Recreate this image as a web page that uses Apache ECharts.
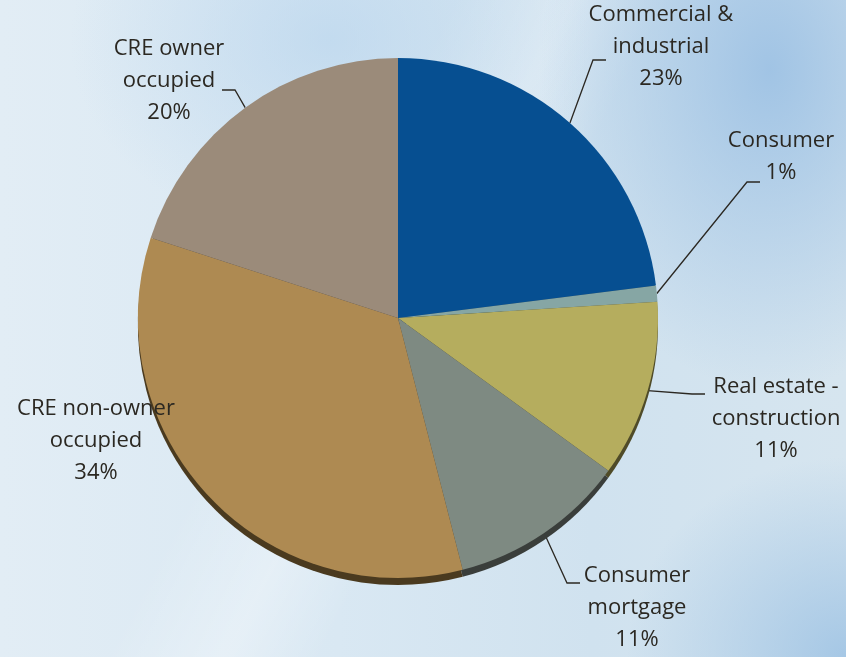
<!DOCTYPE html>
<html>
<head>
<meta charset="utf-8">
<script src="https://cdn.jsdelivr.net/npm/echarts@6/dist/echarts.min.js"></script>
<style>
  html, body {
    margin: 0;
    padding: 0;
  }
  #chart {
    width: 846px;
    height: 657px;
    background:
      radial-gradient(ellipse 230px 320px at 770px 70px, rgba(158, 194, 228, 0.95), rgba(158, 194, 228, 0) 100%),
      radial-gradient(ellipse 220px 200px at 846px 657px, rgba(160, 196, 228, 0.9), rgba(160, 196, 228, 0) 100%),
      radial-gradient(ellipse 260px 200px at 330px 40px, rgba(180, 210, 236, 0.6), rgba(180, 210, 236, 0) 100%),
      linear-gradient(118deg, rgba(255,255,255,0) 38%, rgba(255,255,255,0.3) 48%, rgba(255,255,255,0) 56%),
      linear-gradient(90deg, #e2edf5 0%, #d9e8f3 40%, #d0e2ef 70%, #d6e5ef 100%);
  }
</style>
</head>
<body>
<div id="chart"></div>
<script>
// slice data (clockwise from 12 o'clock)
const categories = [
  'Commercial &\nindustrial',
  'Consumer',
  'Real estate -\nconstruction',
  'Consumer\nmortgage',
  'CRE non-owner\noccupied',
  'CRE owner\noccupied',
]
const shares = [23, 1, 11, 11, 34, 20]

const colors = ['#064f91', '#86a6a4', '#b5ad5e', '#7e8a82', '#ae8a52', '#9b8b7a']
const shadeColors = ['#05305a', '#3d4a48', '#4f4b28', '#3a3e3b', '#4a3a1f', '#4a4034']
// label centres, px
const labelPos = [
  [661, 47],
  [781, 157],
  [776, 419],
  [637, 608],
  [96, 441],
  [169, 81],
]
// where the leader line meets the label (null = no leader), and which side it comes from
const leaderEnd = [
  [606, 60, -1],
  [760, 182, -1],
  [705, 394, -1],
  [580, 583, -1],
  null,
  [222, 90, 1],
]

const chart = echarts.init(document.getElementById('chart'))

const option = {
  animation: false,
  backgroundColor: 'transparent',
  series: [
    {
      // dark rim under the pie (3d edge)
      type: 'pie',
      silent: true,
      center: [398, 325],
      radius: 260,
      startAngle: 90,
      label: { show: false },
      labelLine: { show: false },
      data: shares.map((v, i) => ({
        value: v,
        name: categories[i],
        itemStyle: { color: shadeColors[i] },
      })),
    },
    {
      type: 'pie',
      center: [398, 318],
      radius: 260,
      startAngle: 90,
      itemStyle: { borderWidth: 0 },
      label: {
        show: true,
        position: 'outside',
        formatter: p => `${p.name}\n${p.value}%`,
        color: '#2b2822',
        fontFamily: 'Open Sans',
        fontSize: 22,
        lineHeight: 32,
        align: 'center',
      },
      labelLine: {
        show: true,
        length: 20,
        length2: 12,
        smooth: false,
        lineStyle: { color: '#2b2822', width: 1.3 },
      },
      labelLayout: params => {
        const i = params.dataIndex
        const res = {
          x: labelPos[i][0],
          y: labelPos[i][1],
          align: 'center',
          verticalAlign: 'middle',
          hideOverlap: false,
        }
        const end = leaderEnd[i]
        if (end && params.labelLinePoints) {
          const start = params.labelLinePoints[0]
          res.labelLinePoints = [
            [start[0], start[1]],
            [end[0] - end[2] * -13, end[1]],
            [end[0], end[1]],
          ]
        }
        return res
      },
      data: shares.map((v, i) => ({
        value: v,
        name: categories[i],
        itemStyle: { color: colors[i] },
        labelLine: { show: i !== 4 },
      })),
    },
  ],
}

chart.setOption(option)
</script>
</body>
</html>
